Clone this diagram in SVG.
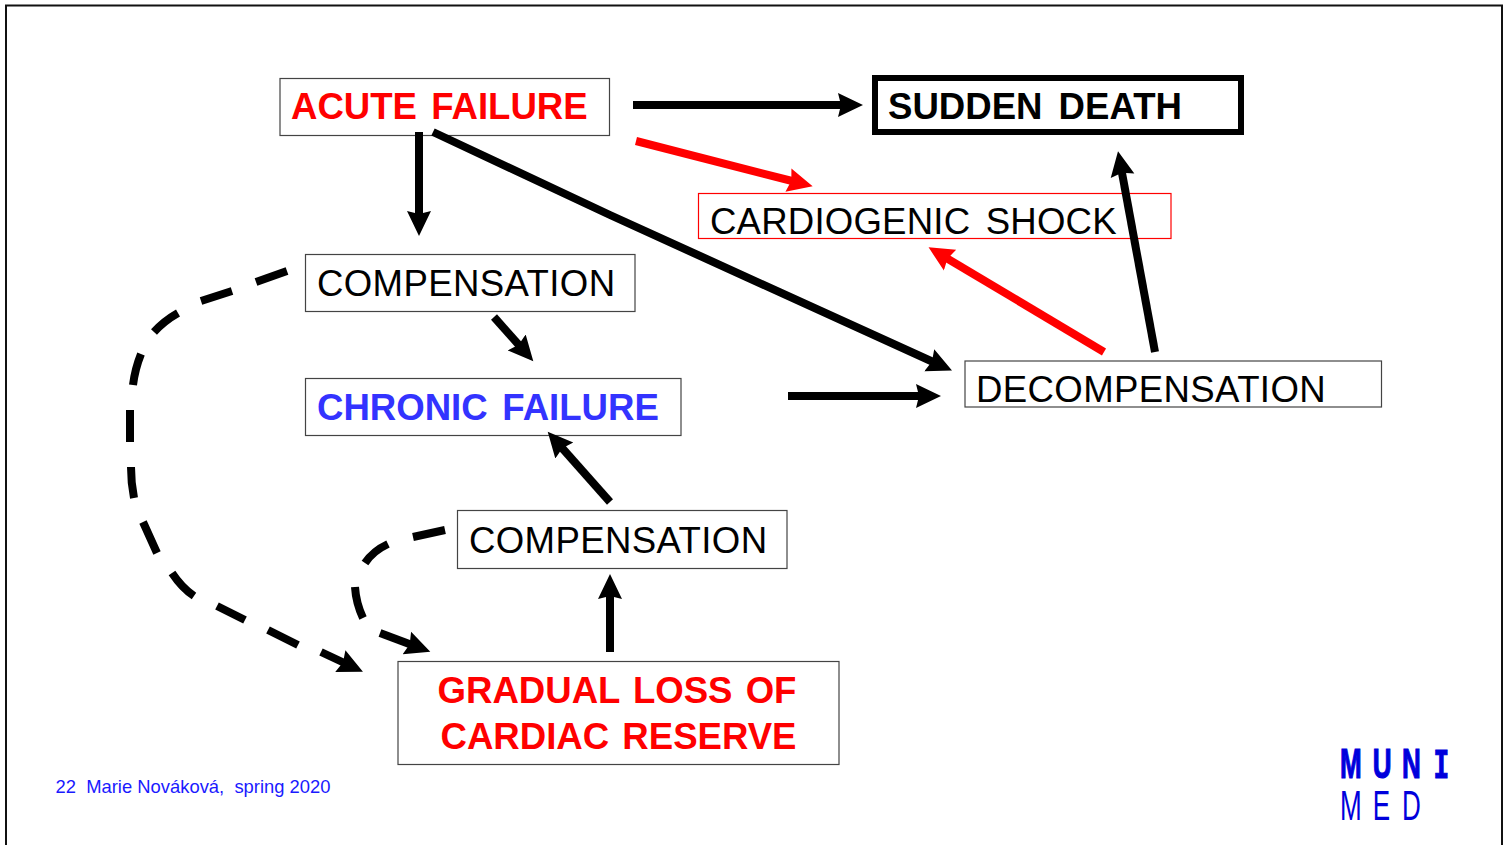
<svg xmlns="http://www.w3.org/2000/svg" width="1512" height="845" viewBox="0 0 1512 845">
<style>
text{font-family:"Liberation Sans",Arial,sans-serif;font-size:36.6px;fill:#000}
.b{font-weight:700}
.box{fill:#fff;stroke:#444;stroke-width:1.2}
.red{fill:#f00}
.blue{fill:#3333ff}
.c{fill:none;stroke:#000;stroke-width:8}
.k{marker-end:url(#ak)}
.r{stroke:#f00;marker-end:url(#ar)}
.ls{letter-spacing:.37px}
.foot{font-size:18.4px;fill:#1a1aff;white-space:pre}
.logo{font-size:42px;fill:#0000dc}
.heavy{stroke:#0000dc;stroke-width:1.2px}
.mono{font-family:"Liberation Mono",monospace}
</style>
<defs>
<marker id="ak" markerUnits="userSpaceOnUse" markerWidth="30" markerHeight="30" refX="14" refY="15" orient="auto" viewBox="0 0 30 30"><path d="M0 3 L25 15 L0 27 L3 15 Z" fill="#000"/></marker>
<marker id="ar" markerUnits="userSpaceOnUse" markerWidth="30" markerHeight="30" refX="14" refY="15" orient="auto" viewBox="0 0 30 30"><path d="M0 3 L25 15 L0 27 L3 15 Z" fill="#f00"/></marker>
</defs>
<rect id="frame" x="6" y="5.5" width="1496" height="845" fill="#fff" stroke="#111" stroke-width="2"/>
<g id="acute"><rect class="box" x="280" y="78.500" width="329.500" height="57"/><text class="b red" x="291" y="119" word-spacing="4">ACUTE FAILURE</text></g>
<g id="death"><rect x="875" y="78" width="366" height="54" fill="#fff" stroke="#000" stroke-width="6"/><text class="b" x="888" y="119" word-spacing="6">SUDDEN DEATH</text></g>
<g id="shock"><rect x="698.500" y="193.500" width="472.500" height="45" fill="none" stroke="#f00" stroke-width="1.200"/><text x="710" y="234" word-spacing="5" letter-spacing=".2">CARDIOGENIC SHOCK</text></g>
<g id="comp1"><rect class="box" x="305.500" y="254.500" width="329.500" height="57"/><text class="ls" x="317" y="296">COMPENSATION</text></g>
<g id="chronic"><rect class="box" x="305.500" y="378.500" width="375.500" height="57"/><text class="b blue" x="317" y="420" word-spacing="4.500">CHRONIC FAILURE</text></g>
<g id="decomp"><rect class="box" x="965" y="361" width="416.500" height="46"/><text class="ls" x="976" y="402">DECOMPENSATION</text></g>
<g id="comp2"><rect class="box" x="457.500" y="510.500" width="329.500" height="58"/><text class="ls" x="469" y="553">COMPENSATION</text></g>
<g id="gradual"><rect class="box" x="398" y="661.500" width="441" height="103"/><text class="b red" x="617" y="703" text-anchor="middle" word-spacing="3">GRADUAL LOSS OF</text><text class="b red" x="618.500" y="749" text-anchor="middle" word-spacing="3">CARDIAC RESERVE</text></g>
<g id="connectors">
<path class="c k" d="M633 105L852 105"/>
<path class="c r" d="M636 141L802 183.5"/>
<path class="c k" d="M419 132L419 225"/>
<path class="c k" d="M433 132L610 215L942 366"/>
<path class="c k" d="M494 317L526 353"/>
<path class="c k" d="M788 396L930 396"/>
<path class="c k" d="M610 502L555 440"/>
<path class="c k" d="M610 652L610 585"/>
<path class="c r" d="M1104 352L938 253"/>
<path class="c k" d="M1155 352L1120 162"/>
<path class="c" d="M287 271L256 282M232 291L201 301M178 313Q164 321 154 332M141 354Q135 369 133 385M130 410L130 442M131 467Q131 483 134 498M143 522L157 553M172 573Q182 588 194 596M217 606L245 620M268 630L298 645"/>
<path class="c k" d="M321 652L353 667"/>
<path class="c" d="M445 530L413 537M388 544Q373 551 365 563M355 587Q356 603 363 618"/>
<path class="c k" d="M380 633L420 648"/>
</g>
<text class="foot" x="55.500" y="793">22  Marie Nováková,  spring 2020</text>
<g id="logo"><text class="b logo heavy" transform="translate(1340 778) scale(.62 1)" x="0 53 100">MUN<tspan class="mono" x="151">I</tspan></text><text class="logo" transform="translate(1340 820) scale(.62 1)" x="0 53 100">MED</text></g>
</svg>
